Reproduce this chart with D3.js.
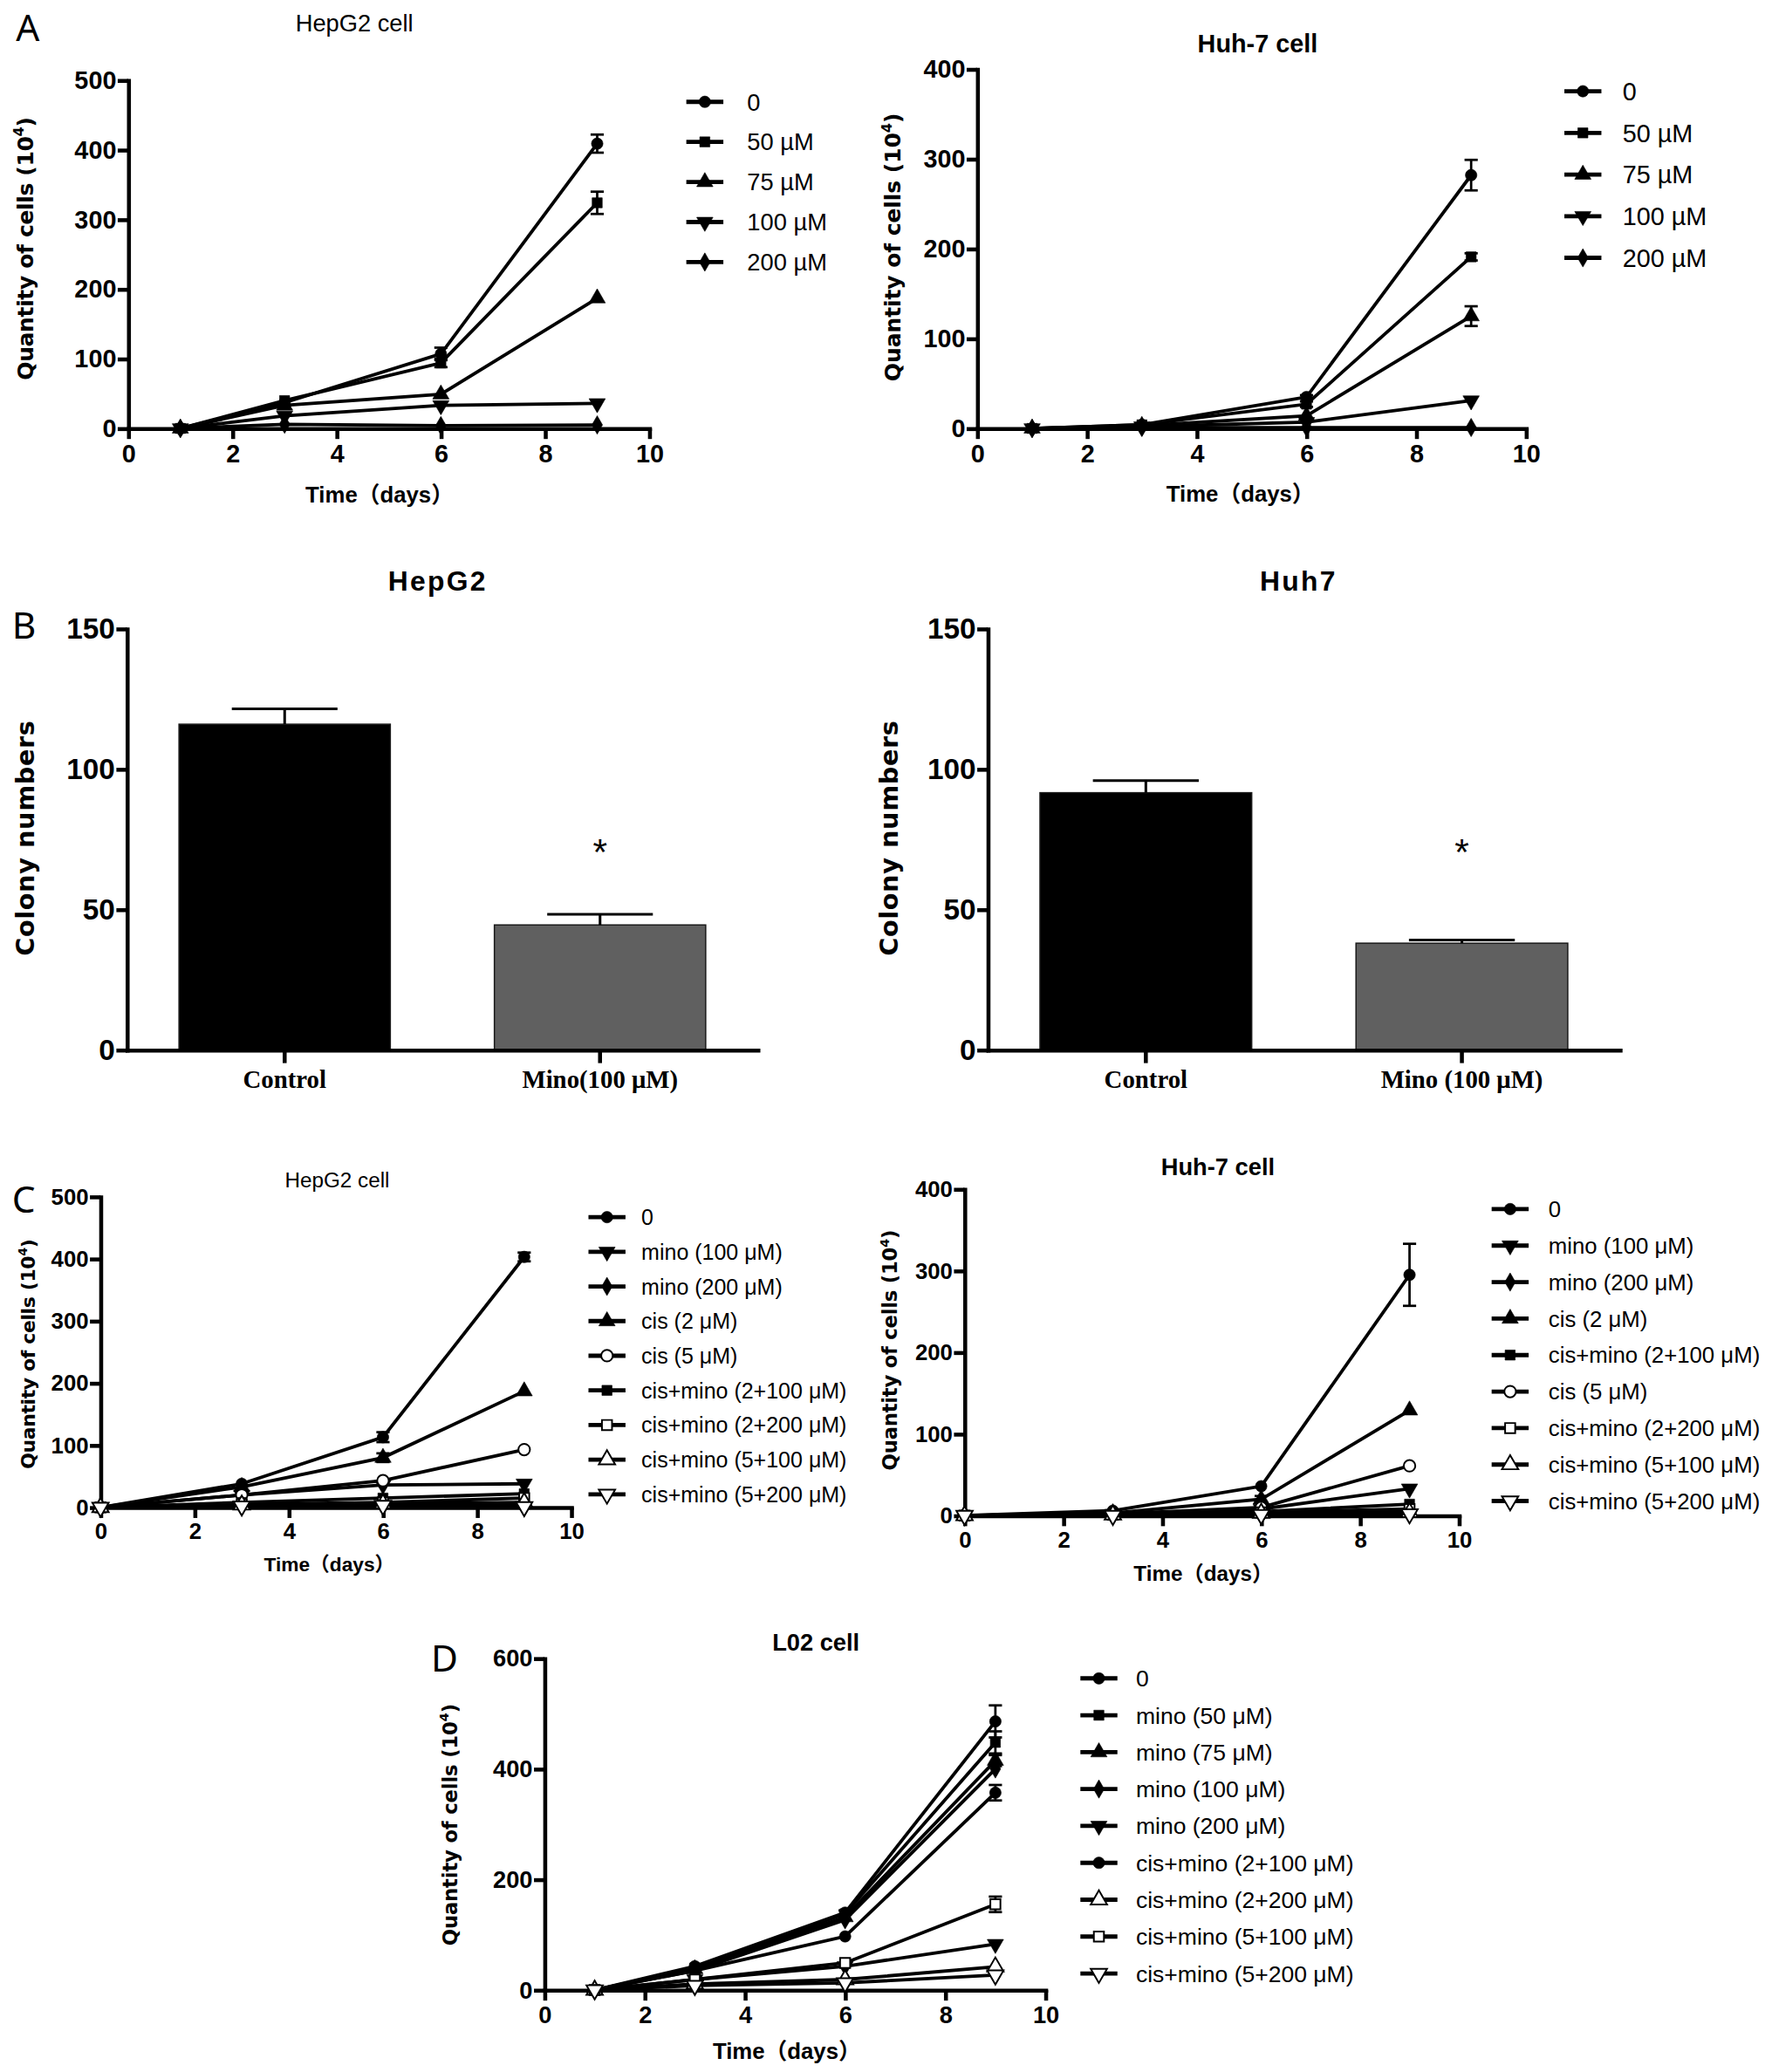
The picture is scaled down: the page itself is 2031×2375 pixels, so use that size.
<!DOCTYPE html>
<html>
<head>
<meta charset="utf-8">
<script src="https://cdn.jsdelivr.net/npm/d3@7"></script>
<style>
  body { margin: 0; background: #fff; }
</style>
</head>
<body>
<svg id="fig" width="2031" height="2375" viewBox="0 0 1340 1567"></svg>
<script>
// ---- data ----
const daysA = [1, 3, 6, 9];
const daysC = [0, 3, 6, 9];
const daysD = [1, 3, 6, 9];
const xTicks = [0, 2, 4, 6, 8, 10];

// A: cell growth under minocycline
const doseLabelsA = ["0", "50 µM", "75 µM", "100 µM", "200 µM"];
const markersA = ["circle", "square", "triangle", "triangleDown", "diamond"];
const hepg2Growth = [[0, 37, 107, 409], [0, 40, 94, 324], [0, 33, 49, 187], [0, 18, 33, 36], [0, 6, 4, 5]];
const hepg2GrowthErr = [[0, 0, 9, 13], [0, 0, 6, 16], [0, 0, 0, 0], [0, 0, 0, 0], [0, 0, 0, 0]];
const huh7Growth = [[0, 4, 35, 282], [0, 4, 27, 191], [0, 3, 14, 125], [0, 2, 7, 31], [0, 1, 1, 1]];
const huh7GrowthErr = [[0, 0, 2, 17], [0, 0, 3, 4], [0, 0, 0, 11], [0, 0, 0, 0], [0, 0, 0, 0]];

// B: colony formation
const colonyCatsHep = ["Control", "Mino(100 μM)"];
const colonyHep = [116, 44.5];
const colonyHepErr = [5.5, 3.8];
const colonyCatsHuh = ["Control", "Mino (100 μM)"];
const colonyHuh = [91.6, 38];
const colonyHuhErr = [4.3, 1.1];

// C: combination with cisplatin
const comboLabelsHep = ["0", "mino (100 μM)", "mino (200 μM)", "cis (2 μM)", "cis (5 μM)",
  "cis+mino (2+100 μM)", "cis+mino (2+200 μM)", "cis+mino (5+100 μM)", "cis+mino (5+200 μM)"];
const comboMarkersHep = ["circle", "triangleDown", "diamond", "triangle", "open-circle",
  "square", "open-square", "open-triangle", "open-triangleDown"];
const comboHep = [[0, 38, 113, 403], [0, 20, 36, 38], [0, 5, 3, 3], [0, 33, 80, 187], [0, 20, 43, 93],
  [0, 8, 15, 22], [0, 5, 8, 15], [0, 4, 6, 8], [0, 2, 3, 1]];
const comboHepErr = [[0, 0, 8, 7], [0, 0, 0, 0], [0, 0, 0, 0], [0, 0, 7, 0], [0, 0, 0, 0],
  [0, 0, 0, 0], [0, 0, 0, 0], [0, 0, 0, 0], [0, 0, 0, 0]];

const comboLabelsHuh = ["0", "mino (100 μM)", "mino (200 μM)", "cis (2 μM)", "cis+mino (2+100 μM)",
  "cis (5 μM)", "cis+mino (2+200 μM)", "cis+mino (5+100 μM)", "cis+mino (5+200 μM)"];
const comboMarkersHuh = ["circle", "triangleDown", "diamond", "triangle", "square",
  "open-circle", "open-square", "open-triangle", "open-triangleDown"];
const comboHuh = [[0, 6, 36, 295], [0, 2, 8, 33], [0, 1, 2, 4], [0, 3, 20, 129], [0, 1, 5, 14],
  [0, 2, 10, 61], [0, 1, 4, 8], [0, 1, 3, 4], [0, 0, 1, 2]];
const comboHuhErr = [[0, 0, 0, 38], [0, 0, 0, 0], [0, 0, 0, 0], [0, 0, 4, 0], [0, 0, 0, 0],
  [0, 0, 0, 0], [0, 0, 0, 0], [0, 0, 0, 0], [0, 0, 0, 0]];

// D: normal liver cells
const l02Labels = ["0", "mino (50 μM)", "mino (75 μM)", "mino (100 μM)", "mino (200 μM)",
  "cis+mino (2+100 μM)", "cis+mino (2+200 μM)", "cis+mino (5+100 μM)", "cis+mino (5+200 μM)"];
const l02Markers = ["circle", "square", "triangle", "diamond", "triangleDown",
  "circle", "open-triangle", "open-square", "open-triangleDown"];
const l02Growth = [[0, 43, 140, 486], [0, 40, 138, 448], [0, 38, 132, 415], [0, 35, 127, 400], [0, 19, 43, 83],
  [0, 35, 97, 357], [0, 11, 19, 42], [0, 19, 49, 155], [0, 8, 13, 27]];
const l02GrowthErr = [[0, 0, 4, 29], [0, 0, 0, 20], [0, 0, 0, 10], [0, 0, 0, 0], [0, 0, 0, 0],
  [0, 0, 0, 14], [0, 0, 0, 0], [0, 0, 0, 14], [0, 0, 0, 0]];

// ---- drawing ----
const FONT = "'Liberation Sans', Arial, 'Noto Sans CJK SC', sans-serif";
const WIDE = "'DejaVu Sans', Verdana, 'Noto Sans CJK SC', sans-serif";
const SERIF = "'Liberation Serif', 'Times New Roman', serif";
const svg = d3.select("#fig");

const symbolTypes = {
  circle: d3.symbolCircle, square: d3.symbolSquare, triangle: d3.symbolTriangle,
  triangleDown: d3.symbolTriangle, diamond: d3.symbolDiamond
};
const symbolSizes = { circle: 60, square: 58, triangle: 66, triangleDown: 66, diamond: 56 };

function drawMarker(g, kind, cx, cy) {
  const open = kind.startsWith("open-");
  const base = kind.replace("open-", "");
  g.append("path")
    .attr("d", d3.symbol().type(symbolTypes[base]).size(symbolSizes[base])())
    .attr("transform", `translate(${cx},${cy})` + (base === "triangleDown" ? " rotate(180)" : ""))
    .attr("fill", open ? "#fff" : "#000")
    .attr("stroke", "#000")
    .attr("stroke-width", open ? 1.3 : 0.4);
}

function styleAxis(a, fontSize, family) {
  a.select(".domain").attr("stroke-width", 3).attr("stroke-linecap", "square");
  a.selectAll(".tick line").attr("stroke-width", 3);
  a.selectAll("text")
    .attr("font-family", family || FONT)
    .attr("font-weight", "bold")
    .attr("font-size", fontSize)
    .attr("fill", "#000");
}

function rotatedLabel(g, cx, cy, text, size, len, sup) {
  const t = g.append("text")
    .attr("transform", `translate(${cx},${cy}) rotate(-90)`)
    .attr("text-anchor", "middle")
    .attr("y", size * 0.36)
    .attr("font-family", WIDE)
    .attr("font-weight", "bold")
    .attr("font-size", size);
  t.append("tspan").text(text);
  if (sup) {
    t.append("tspan").text(sup).attr("font-size", size * 0.65).attr("dy", -size * 0.42);
    t.append("tspan").text(")").attr("dy", size * 0.42);
  }
  if (len) t.attr("textLength", len).attr("lengthAdjust", "spacing");
}

function plainText(g, x, y, text, size, bold, extra) {
  const t = g.append("text")
    .attr("x", x).attr("y", y).attr("dy", "0.36em")
    .attr("text-anchor", "middle")
    .attr("font-family", FONT)
    .attr("font-weight", bold ? "bold" : "normal")
    .attr("font-size", size)
    .text(text);
  if (extra) extra(t);
  return t;
}

function lineChart(o) {
  const g = svg.append("g");
  const x = d3.scaleLinear().domain([0, 10]).range([o.left, o.right]);
  const y = d3.scaleLinear().domain([0, o.yMax]).range([o.bottom, o.top]);

  const ya = g.append("g").attr("transform", `translate(${o.left},0)`)
    .call(d3.axisLeft(y).tickValues(d3.range(0, o.yMax + 1, o.yStep)).tickSize(8).tickSizeOuter(0).tickPadding(1));
  const xa = g.append("g").attr("transform", `translate(0,${o.bottom})`)
    .call(d3.axisBottom(x).tickValues(xTicks).tickSize(8).tickSizeOuter(0).tickPadding(4));
  styleAxis(ya, o.tick);
  styleAxis(xa, o.tick);

  const line = d3.line().x(d => x(d[0])).y(d => y(d[1]));
  const pts = o.values.map(v => v.map((d, i) => [o.days[i], d]));

  g.append("g").selectAll("path").data(pts).join("path")
    .attr("d", line).attr("fill", "none").attr("stroke", "#000").attr("stroke-width", 2.5);

  const eg = g.append("g").attr("stroke", "#000").attr("stroke-width", 1.8);
  o.errors.forEach((es, s) => es.forEach((e, i) => {
    if (!e) return;
    const cx = x(o.days[i]);
    const v = o.values[s][i];
    eg.append("line").attr("x1", cx).attr("x2", cx).attr("y1", y(v - e)).attr("y2", y(v + e));
    [v - e, v + e].forEach(t => eg.append("line")
      .attr("x1", cx - 5).attr("x2", cx + 5).attr("y1", y(t)).attr("y2", y(t)));
  }));

  const mg = g.append("g");
  pts.forEach((p, s) => p.forEach(d => drawMarker(mg, o.markers[s], x(d[0]), y(d[1]))));

  // legend
  const lg = g.append("g");
  o.names.forEach((n, i) => {
    const ry = o.legY + i * o.legStep;
    lg.append("line").attr("x1", o.legX - 14).attr("x2", o.legX + 14)
      .attr("y1", ry).attr("y2", ry).attr("stroke", "#000").attr("stroke-width", 3.2);
    drawMarker(lg, o.markers[i], o.legX, ry);
    lg.append("text").attr("x", o.legText).attr("y", ry).attr("dy", "0.36em")
      .attr("font-family", FONT).attr("font-size", o.legFont).text(n);
  });

  plainText(g, o.titleX, o.titleY, o.title, o.titleSize, o.titleBold);
  plainText(g, o.xlabX, o.xlabY, "Time（days）", o.xlabSize, true);
  rotatedLabel(g, o.ylabX, o.ylabY, "Quantity of cells (10", o.ylabSize, o.ylabLen, "4");
}

function barChart(o) {
  const g = svg.append("g");
  const x = d3.scaleBand().domain(o.cats).range([o.left, o.right]).paddingInner(0.33).paddingOuter(0.165);
  const y = d3.scaleLinear().domain([0, 150]).range([o.bottom, o.top]);

  g.append("g").selectAll("rect").data(o.values).join("rect")
    .attr("x", (d, i) => x(o.cats[i]))
    .attr("width", x.bandwidth())
    .attr("y", d => y(d))
    .attr("height", d => y(0) - y(d))
    .attr("fill", (d, i) => i === 0 ? "#000" : "#606060")
    .attr("stroke", "#1a1a1a").attr("stroke-width", 1);

  const eg = g.append("g").attr("stroke", "#000").attr("stroke-width", 2);
  o.values.forEach((v, i) => {
    const cx = x(o.cats[i]) + x.bandwidth() / 2;
    eg.append("line").attr("x1", cx).attr("x2", cx).attr("y1", y(v)).attr("y2", y(v + o.errors[i]));
    eg.append("line").attr("x1", cx - x.bandwidth() / 4).attr("x2", cx + x.bandwidth() / 4)
      .attr("y1", y(v + o.errors[i])).attr("y2", y(v + o.errors[i]));
  });

  const ya = g.append("g").attr("transform", `translate(${o.left},0)`)
    .call(d3.axisLeft(y).tickValues([0, 50, 100, 150]).tickSize(8).tickSizeOuter(0).tickPadding(1));
  const xa = g.append("g").attr("transform", `translate(0,${o.bottom})`)
    .call(d3.axisBottom(x).tickSize(10).tickSizeOuter(0).tickPadding(5));
  styleAxis(ya, 22);
  styleAxis(xa, 19, SERIF);

  const sx = x(o.cats[1]) + x.bandwidth() / 2;
  plainText(g, sx, o.starY, "*", 28, false);
  plainText(g, o.titleX, o.titleY, o.title, 21, true, t => t.attr("letter-spacing", 1.5));
  rotatedLabel(g, o.ylabX, o.ylabY, "Colony numbers", 19, 178);
}

// panel letters
[["A", 12, 31], ["B", 9, 483], ["C", 9, 917], ["D", 326, 1264]].forEach(([t, px, py]) =>
  svg.append("text").attr("x", px).attr("y", py)
    .attr("font-family", "'Noto Sans', 'Open Sans', sans-serif")
    .attr("font-size", 28).text(t));

lineChart({
  left: 97, right: 491, top: 60.7, bottom: 324, yMax: 500, yStep: 100, tick: 19,
  days: daysA, names: doseLabelsA, values: hepg2Growth, errors: hepg2GrowthErr, markers: markersA,
  legX: 533, legText: 565, legY: 77, legStep: 30.3, legFont: 18,
  title: "HepG2 cell", titleX: 268, titleY: 17, titleSize: 18, titleBold: false,
  xlabX: 287, xlabY: 374, xlabSize: 17, ylabX: 19, ylabY: 188, ylabSize: 16.5, ylabLen: 199
});

lineChart({
  left: 739, right: 1154, top: 52.3, bottom: 324, yMax: 400, yStep: 100, tick: 19,
  days: daysA, names: doseLabelsA, values: huh7Growth, errors: huh7GrowthErr, markers: markersA,
  legX: 1197, legText: 1227, legY: 69, legStep: 31.5, legFont: 19,
  title: "Huh-7 cell", titleX: 951, titleY: 33, titleSize: 19, titleBold: true,
  xlabX: 938, xlabY: 373, xlabSize: 17, ylabX: 675, ylabY: 187, ylabSize: 16.5, ylabLen: 203
});

barChart({
  left: 96, right: 573, top: 475.5, bottom: 794, cats: colonyCatsHep, values: colonyHep, errors: colonyHepErr,
  starY: 644, title: "HepG2", titleX: 331, titleY: 439, ylabX: 19, ylabY: 634
});

barChart({
  left: 747, right: 1225, top: 475.5, bottom: 794, cats: colonyCatsHuh, values: colonyHuh, errors: colonyHuhErr,
  starY: 644, title: "Huh7", titleX: 982, titleY: 439, ylabX: 672, ylabY: 634
});

lineChart({
  left: 76, right: 432, top: 905, bottom: 1140, yMax: 500, yStep: 100, tick: 17,
  days: daysC, names: comboLabelsHep, values: comboHep, errors: comboHepErr, markers: comboMarkersHep,
  legX: 459, legText: 485, legY: 920.5, legStep: 26.2, legFont: 16.5,
  title: "HepG2 cell", titleX: 255, titleY: 892, titleSize: 16, titleBold: false,
  xlabX: 249, xlabY: 1183, xlabSize: 15, ylabX: 21, ylabY: 1024, ylabSize: 14.5, ylabLen: 174
});

lineChart({
  left: 729.4, right: 1103.3, top: 899.3, bottom: 1146.2, yMax: 400, yStep: 100, tick: 17,
  days: daysC, names: comboLabelsHuh, values: comboHuh, errors: comboHuhErr, markers: comboMarkersHuh,
  legX: 1142, legText: 1171, legY: 914.4, legStep: 27.6, legFont: 17,
  title: "Huh-7 cell", titleX: 921, titleY: 882, titleSize: 18, titleBold: true,
  xlabX: 910, xlabY: 1190, xlabSize: 16, ylabX: 673, ylabY: 1021, ylabSize: 15, ylabLen: 182
});

lineChart({
  left: 411.8, right: 790.6, top: 1254.2, bottom: 1505, yMax: 600, yStep: 200, tick: 18,
  days: daysD, names: l02Labels, values: l02Growth, errors: l02GrowthErr, markers: l02Markers,
  legX: 831, legText: 859, legY: 1269.3, legStep: 27.9, legFont: 17.5,
  title: "L02 cell", titleX: 617, titleY: 1242, titleSize: 18, titleBold: true,
  xlabX: 595, xlabY: 1551, xlabSize: 17, ylabX: 340, ylabY: 1380, ylabSize: 15, ylabLen: 183
});
</script>
</body>
</html>
